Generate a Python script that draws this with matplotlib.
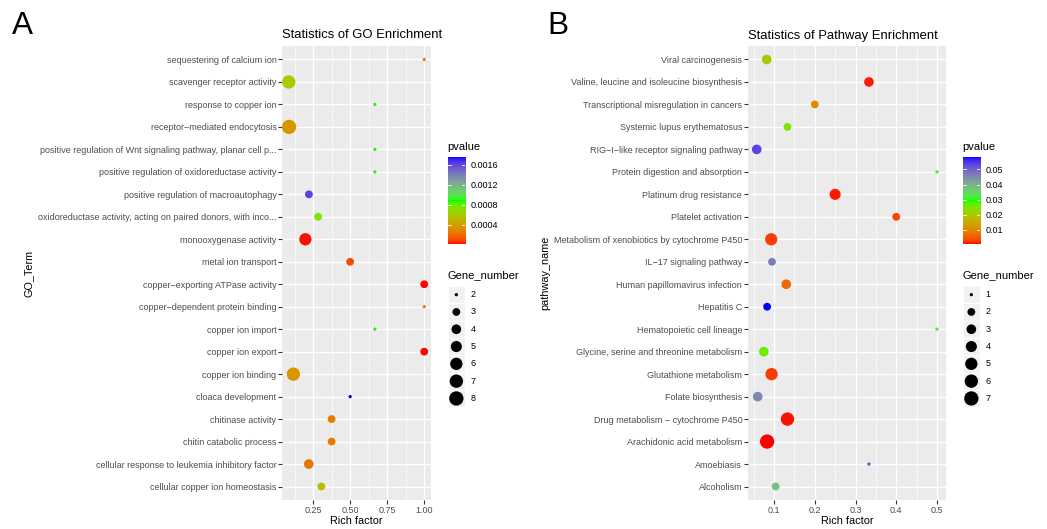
import numpy as np
import matplotlib
matplotlib.use('Agg')
import matplotlib.pyplot as plt
from matplotlib.colors import ListedColormap, Normalize
from matplotlib.patches import Rectangle

plt.rcParams['font.family'] = ['Liberation Sans', 'DejaVu Sans']

# ---------------- data ----------------
go_terms = [
    "sequestering of calcium ion",
    "scavenger receptor activity",
    "response to copper ion",
    "receptor\u2212mediated endocytosis",
    "positive regulation of Wnt signaling pathway, planar cell p...",
    "positive regulation of oxidoreductase activity",
    "positive regulation of macroautophagy",
    "oxidoreductase activity, acting on paired donors, with inco...",
    "monooxygenase activity",
    "metal ion transport",
    "copper\u2212exporting ATPase activity",
    "copper\u2212dependent protein binding",
    "copper ion import",
    "copper ion export",
    "copper ion binding",
    "cloaca development",
    "chitinase activity",
    "chitin catabolic process",
    "cellular response to leukemia inhibitory factor",
    "cellular copper ion homeostasis",
]
go_rich = [1.0, 0.086, 0.667, 0.088, 0.667, 0.667, 0.222, 0.284, 0.198, 0.5,
           1.0, 1.0, 0.667, 1.0, 0.117, 0.5, 0.375, 0.375, 0.221, 0.306]
go_genes = [2, 7, 2, 8, 2, 2, 3, 3, 6, 3, 3, 2, 2, 3, 7, 2, 3, 3, 4, 3]
go_pvalue = [0.00026, 0.0006, 0.000875, 0.00035, 0.000875, 0.000875, 0.00162,
             0.00074, 0.00002, 0.0001, 0.00001, 0.00026, 0.000875, 0.00001,
             0.00035, 0.00175, 0.000245, 0.000245, 0.00023, 0.000525]

kegg_terms = [
    "Viral carcinogenesis",
    "Valine, leucine and isoleucine biosynthesis",
    "Transcriptional misregulation in cancers",
    "Systemic lupus erythematosus",
    "RIG\u2212I\u2212like receptor signaling pathway",
    "Protein digestion and absorption",
    "Platinum drug resistance",
    "Platelet activation",
    "Metabolism of xenobiotics by cytochrome P450",
    "IL\u221217 signaling pathway",
    "Human papillomavirus infection",
    "Hepatitis C",
    "Hematopoietic cell lineage",
    "Glycine, serine and threonine metabolism",
    "Glutathione metabolism",
    "Folate biosynthesis",
    "Drug metabolism \u2212 cytochrome P450",
    "Arachidonic acid metabolism",
    "Amoebiasis",
    "Alcoholism",
]
kegg_rich = [0.082, 0.333, 0.2, 0.133, 0.0575, 0.5, 0.25, 0.4, 0.093, 0.095,
             0.13, 0.083, 0.5, 0.075, 0.094, 0.06, 0.133, 0.083, 0.333, 0.104]
kegg_genes = [3, 3, 2, 2, 3, 1, 4, 2, 5, 2, 3, 2, 1, 3, 5, 3, 6, 7, 1, 2]
kegg_pvalue = [0.0197, 0.001, 0.0104, 0.0246, 0.0534, 0.0319, 0.001, 0.0029,
               0.0026, 0.0464, 0.0064, 0.058, 0.0319, 0.026, 0.0024, 0.045,
               0.0008, 0.0005, 0.052, 0.0377]

go_xticks = [0.25, 0.50, 0.75, 1.00]
go_xticklabels = ["0.25", "0.50", "0.75", "1.00"]
kegg_xticks = [0.1, 0.2, 0.3, 0.4, 0.5]
kegg_xticklabels = ["0.1", "0.2", "0.3", "0.4", "0.5"]
go_p_breaks = [0.0004, 0.0008, 0.0012, 0.0016]
go_p_labels = ["0.0004", "0.0008", "0.0012", "0.0016"]
kegg_p_breaks = [0.01, 0.02, 0.03, 0.04, 0.05]
kegg_p_labels = ["0.01", "0.02", "0.03", "0.04", "0.05"]
go_size_breaks = [2, 3, 4, 5, 6, 7, 8]
kegg_size_breaks = [1, 2, 3, 4, 5, 6, 7]

# ---------------- helpers ----------------
W, H = 1047, 529
DPI = 100
M = np.array([[0.4124, 0.3576, 0.1805],
              [0.2126, 0.7152, 0.0722],
              [0.0193, 0.1192, 0.9505]])
WHITE = np.array([0.95047, 1.0, 1.08883])


def srgb_to_lab(rgb):
    rgb = np.asarray(rgb, float)
    lin = np.where(rgb <= 0.04045, rgb / 12.92, ((rgb + 0.055) / 1.055) ** 2.4)
    xyz = lin @ M.T / WHITE
    f = np.where(xyz > 0.008856, np.cbrt(xyz), 7.787 * xyz + 16 / 116)
    return np.stack([116 * f[..., 1] - 16, 500 * (f[..., 0] - f[..., 1]),
                     200 * (f[..., 1] - f[..., 2])], -1)


def lab_to_srgb(lab):
    fy = (lab[..., 0] + 16) / 116
    fx = fy + lab[..., 1] / 500
    fz = fy - lab[..., 2] / 200
    f = np.stack([fx, fy, fz], -1)
    xyz = np.where(f ** 3 > 0.008856, f ** 3, (f - 16 / 116) / 7.787) * WHITE
    lin = np.clip(xyz @ np.linalg.inv(M).T, 0, 1)
    rgb = np.where(lin <= 0.0031308, 12.92 * lin, 1.055 * lin ** (1 / 2.4) - 0.055)
    return np.clip(rgb, 0, 1)


anchors = srgb_to_lab(np.array([[1, 0, 0], [0, 1, 0], [0, 0, 1]], float))
tt = np.linspace(0, 1, 512)
labs = np.empty((512, 3))
for k in range(3):
    labs[:, k] = np.interp(tt, [0, 0.5, 1], anchors[:, k])
cmap = ListedColormap(lab_to_srgb(labs))


def rect(x0, y0, x1, y1):
    return [x0 / W, 1 - y1 / H, (x1 - x0) / W, (y1 - y0) / H]


D_MIN, D_MAX = 3.3, 14.3


def size_s(n, nmin, nmax):
    n = np.asarray(n, float)
    d = D_MIN + (D_MAX - D_MIN) * np.sqrt((n - nmin) / (nmax - nmin))
    return (d * 72.0 / DPI) ** 2


fig = plt.figure(figsize=(W / DPI, H / DPI), dpi=DPI)
fig.patch.set_facecolor('white')

TICK_COL = '#4D4D4D'


def panel(prect, terms, rich, genes, pvals, xticks, xticklabels, title,
          ylabel, ylabel_x, letter, letter_x, leg_x, p_breaks, p_labels,
          size_breaks):
    ax = fig.add_axes(rect(*prect))
    ax.set_facecolor('#EBEBEB')
    for s in ax.spines.values():
        s.set_visible(False)
    n = len(terms)
    ypos = np.arange(n)[::-1]
    rich = np.asarray(rich)
    pvals = np.asarray(pvals)
    nmin, nmax = min(genes), max(genes)
    norm = Normalize(vmin=pvals.min(), vmax=pvals.max())
    ax.scatter(rich, ypos, s=size_s(genes, nmin, nmax), c=pvals, cmap=cmap,
               norm=norm, edgecolors='none', zorder=3)
    lo, hi = rich.min(), rich.max()
    r = hi - lo
    ax.set_xlim(lo - 0.05 * r, hi + 0.05 * r)
    ax.set_ylim(-0.6, n - 0.4)
    ax.set_yticks(ypos)
    ax.set_yticklabels(terms)
    ax.set_xticks(xticks)
    ax.set_xticklabels(xticklabels)
    step = xticks[1] - xticks[0]
    minors = [xticks[0] - step / 2] + [x + step / 2 for x in xticks]
    xl = ax.get_xlim()
    ax.set_xticks([m for m in minors if xl[0] < m < xl[1]], minor=True)
    ax.grid(which='major', color='white', lw=1.0, zorder=0)
    ax.grid(which='minor', axis='x', color='white', lw=0.5, zorder=0)
    ax.set_axisbelow(True)
    ax.tick_params(which='major', length=2.8, width=0.8, color='#333333',
                   labelcolor=TICK_COL, labelsize=6.5)
    ax.tick_params(axis='y', pad=1.2)
    ax.tick_params(axis='x', pad=1.6)
    ax.tick_params(which='minor', length=0)
    x0, y0, x1, y1 = prect
    fig.text(x0 / W, 1 - 38.5 / H, title, fontsize=9.4, ha='left',
             va='baseline')
    fig.text((x0 + x1) / 2 / W, 1 - 524 / H, 'Rich factor', fontsize=7.8,
             ha='center', va='baseline')
    fig.text(ylabel_x / W, 1 - (y0 + y1) / 2 / H, ylabel, fontsize=7.8,
             rotation=90, ha='center', va='center')
    fig.text(letter_x / W, 1 - 34.3 / H, letter, fontsize=22.7, ha='left',
             va='baseline')

    # colour bar legend
    fig.text(leg_x / W, 1 - 150 / H, 'pvalue', fontsize=8, ha='left',
             va='baseline')
    cax = fig.add_axes(rect(leg_x, 157.3, leg_x + 17.3, 244.3))
    vmin, vmax = norm.vmin, norm.vmax
    grad = np.linspace(vmin, vmax, 300)[:, None]
    cax.imshow(grad, aspect='auto', origin='lower', extent=[0, 1, vmin, vmax],
               cmap=cmap, norm=norm)
    cax.set_xlim(0, 1)
    cax.set_ylim(vmin, vmax)
    for b in p_breaks:
        cax.plot([0, 0.2], [b, b], color='white', lw=0.6)
        cax.plot([0.8, 1], [b, b], color='white', lw=0.6)
    cax.set_xticks([])
    cax.set_yticks(p_breaks)
    cax.set_yticklabels(p_labels)
    cax.yaxis.tick_right()
    cax.tick_params(length=0, labelsize=6.5, pad=4.0, labelcolor='black')
    for s in cax.spines.values():
        s.set_visible(False)

    # size legend
    fig.text(leg_x / W, 1 - 277.7 / H, 'Gene_number', fontsize=8, ha='left',
             va='baseline')
    k = len(size_breaks)
    kh = 17.3
    lax = fig.add_axes(rect(leg_x, 286, leg_x + 17.3, 286 + kh * k))
    lax.set_xlim(0, 1)
    lax.set_ylim(k, 0)
    lax.axis('off')
    for i, sb in enumerate(size_breaks):
        lax.add_patch(Rectangle((0, i), 1, 1, facecolor='#F2F2F2',
                                edgecolor='white', lw=0.8))
        lax.text(1 + 5.7 / 17.3, i + 0.5, str(sb), fontsize=6.5,
                 ha='left', va='center')
    lax.scatter([0.5] * k, np.arange(k) + 0.5,
                s=size_s(size_breaks, nmin, nmax), color='black',
                edgecolors='none', zorder=3, clip_on=False)
    return ax


panel((282, 46, 431, 500), go_terms, go_rich, go_genes, go_pvalue,
      go_xticks, go_xticklabels, 'Statistics of GO Enrichment', 'GO_Term',
      29, 'A', 12, 447.7, go_p_breaks, go_p_labels, go_size_breaks)
panel((747.7, 46, 946, 500), kegg_terms, kegg_rich, kegg_genes, kegg_pvalue,
      kegg_xticks, kegg_xticklabels, 'Statistics of Pathway Enrichment',
      'pathway_name', 545, 'B', 547, 962.7, kegg_p_breaks, kegg_p_labels,
      kegg_size_breaks)

fig.savefig('out.png', dpi=DPI)
